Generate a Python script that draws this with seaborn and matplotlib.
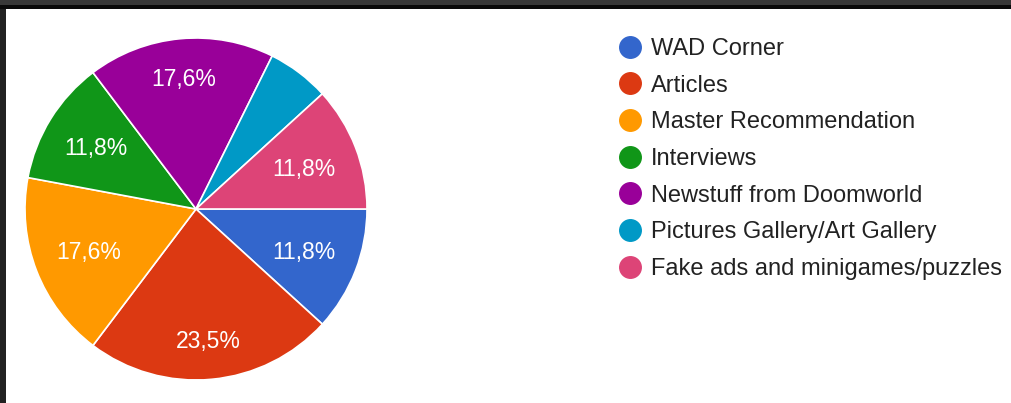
import matplotlib
matplotlib.use("Agg")
import matplotlib.pyplot as plt
from matplotlib.patches import Rectangle
from matplotlib.lines import Line2D
import numpy as np
import seaborn as sns

sns.set_theme(style="white")
plt.rcParams['font.family'] = ['Liberation Sans', 'DejaVu Sans']

categories = ["WAD Corner", "Articles", "Master Recommendation", "Interviews",
              "Newstuff from Doomworld", "Pictures Gallery/Art Gallery",
              "Fake ads and minigames/puzzles"]
counts = [2, 4, 3, 2, 3, 1, 2]
colors = ["#3366CC", "#DC3912", "#FF9900", "#109618", "#990099", "#0099C6", "#DD4477"]

W, H = 1011, 403
fig = plt.figure(figsize=(W / 100, H / 100), dpi=100)
fig.patch.set_facecolor("white")

# screenshot frame
fig.patches.append(Rectangle((0, 1 - 5 / H), 1, 5 / H, transform=fig.transFigure,
                             facecolor="#383838", edgecolor="none", zorder=0))
fig.patches.append(Rectangle((0, 1 - 9 / H), 1, 4 / H, transform=fig.transFigure,
                             facecolor="#0a0a0a", edgecolor="none", zorder=0))
fig.patches.append(Rectangle((0, 0), 6 / W, 1 - 9 / H, transform=fig.transFigure,
                             facecolor="#222222", edgecolor="none", zorder=0))

cx, cy, r = 196, 209, 171
ax = fig.add_axes([(cx - r) / W, (H - cy - r) / H, 2 * r / W, 2 * r / H])

def fmt(p):
    if p < 8:
        return ""
    return f"{p:.1f}%".replace(".", ",")

wedges, texts, autotexts = ax.pie(
    counts, colors=colors, startangle=0, counterclock=False,
    autopct=fmt, pctdistance=1.0, radius=1,
    wedgeprops=dict(edgecolor="white", linewidth=1.2),
    textprops=dict(color="white", fontsize=16.5))

# place labels radially, a bit further out near the vertical direction
for w, t in zip(wedges, autotexts):
    ang = np.deg2rad((w.theta1 + w.theta2) / 2)
    d = 0.66 + 0.11 * np.sin(ang) ** 2
    t.set_position((d * np.cos(ang), d * np.sin(ang) - 0.01))

ax.set_xlim(-1, 1)
ax.set_ylim(-1, 1)
ax.set_aspect("equal")
ax.axis("off")

handles = [Line2D([0], [0], marker="o", linestyle="none", markersize=15.5,
                  markerfacecolor=c, markeredgecolor=c) for c in colors]
fig.legend(handles, categories, loc="upper left",
           bbox_to_anchor=(619 / W, 1 - 38 / H), bbox_transform=fig.transFigure,
           frameon=False, fontsize=17, labelcolor="#222222",
           handlelength=0.95, handletextpad=0.4, labelspacing=0.62,
           borderpad=0, borderaxespad=0)

fig.savefig("out.png", dpi=100, facecolor=fig.get_facecolor())
